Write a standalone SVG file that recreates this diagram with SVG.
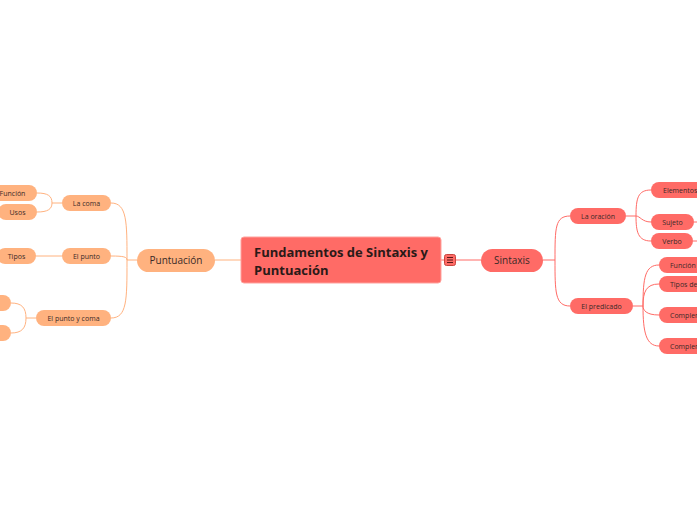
<svg xmlns="http://www.w3.org/2000/svg" width="697" height="520" viewBox="0 0 697 520">
<style>
.o{fill:#FFB27F}
.r{fill:#FF6B66}
.t{font-family:"Open Sans","Liberation Sans",sans-serif;font-size:7px;fill:#3a2a28;text-anchor:middle}
.ts{text-anchor:start}
.lo{fill:none;stroke:#FFB27F;stroke-width:1}
.lr{fill:none;stroke:#FF6B66;stroke-width:1}
</style>
<rect width="697" height="520" fill="#ffffff"/>
<g id="connectors">
<path class="lo" d="M215,260 H241"/>
<path class="lo" d="M137,260 H127"/>
<path class="lo" d="M127,260 C127,222 127,203 111,203"/>
<path class="lo" d="M127,260 C127,257 124,256 111,256"/>
<path class="lo" d="M127,260 C127,300 127,318 111,318"/>
<path class="lo" d="M62,203 H52"/>
<path class="lo" d="M52,203 C52,196 48,193 37,193"/>
<path class="lo" d="M52,203 C52,209 48,212 37,212"/>
<path class="lo" d="M36,256 H62"/>
<path class="lo" d="M36,318 H26"/>
<path class="lo" d="M26,318 C26,308 22,303 11,303"/>
<path class="lo" d="M26,318 C26,328 22,333 11,333"/>
<path class="lr" d="M441,260 H444"/>
<path class="lr" d="M456,260 H481"/>
<path class="lr" d="M543,260 H555"/>
<path class="lr" d="M555,260 C555,228 555,216 570,216"/>
<path class="lr" d="M555,260 C555,292 555,306 570,306"/>
<path class="lr" d="M626,216 H636"/>
<path class="lr" d="M636,216 C636,198 638,190 651,190"/>
<path class="lr" d="M636,216 C640,216 642,222 651,222"/>
<path class="lr" d="M636,216 C636,232 638,241 651,241"/>
<path class="lr" d="M694,222 H697"/>
<path class="lr" d="M693,241 H697"/>
<path class="lr" d="M633,306 H643"/>
<path class="lr" d="M643,306 C643,278 645,265 659,265"/>
<path class="lr" d="M643,306 C643,292 646,284 659,284"/>
<path class="lr" d="M643,306 C643,310 646,315 659,315"/>
<path class="lr" d="M643,306 C643,332 646,346 659,346"/>
</g>
<g id="central">
<rect x="241" y="237" width="200" height="46" rx="3" fill="#FF6B66" stroke="#FFA29D" stroke-width="1"/>
<text x="254" y="257" font-family="'Open Sans','Liberation Sans',sans-serif" font-size="13" font-weight="700" fill="#2a1a18">Fundamentos de Sintaxis y</text>
<text x="254" y="275" font-family="'Open Sans','Liberation Sans',sans-serif" font-size="13" font-weight="700" fill="#2a1a18">Puntuación</text>
</g>
<g id="toggle">
<rect x="444.5" y="254.5" width="11" height="11" rx="2" fill="#FF6B66" stroke="#C9453F" stroke-width="1"/>
<path d="M447,257.5 H453 M447,260 H453 M447,262.5 H453" stroke="#5a1a18" stroke-width="1"/>
</g>
<g id="puntuacion">
<rect class="o" x="137" y="249" width="78" height="23" rx="11.5"/>
<text class="t" x="176" y="264" font-size="10" style="font-size:10px">Puntuación</text>
</g>
<g id="la-coma"><rect class="o" x="62" y="195" width="49" height="16" rx="8"/><text class="t" x="86.5" y="205.5">La coma</text></g>
<g id="el-punto"><rect class="o" x="62" y="248" width="49" height="16" rx="8"/><text class="t" x="86.5" y="258.5">El punto</text></g>
<g id="el-punto-y-coma"><rect class="o" x="36" y="310" width="75" height="16" rx="8"/><text class="t" x="73.5" y="320.5">El punto y coma</text></g>
<g id="funcion-l"><rect class="o" x="-12" y="185" width="49" height="16" rx="8"/><text class="t" x="12.5" y="195.5">Función</text></g>
<g id="usos"><rect class="o" x="-2" y="204" width="39" height="16" rx="8"/><text class="t" x="17.5" y="214.5">Usos</text></g>
<g id="tipos"><rect class="o" x="-3" y="248" width="39" height="16" rx="8"/><text class="t" x="16.5" y="258.5">Tipos</text></g>
<g id="pyc-1"><rect class="o" x="-40" y="295" width="51" height="16" rx="8"/></g>
<g id="pyc-2"><rect class="o" x="-40" y="325" width="51" height="16" rx="8"/></g>
<g id="sintaxis">
<rect class="r" x="481" y="249" width="62" height="23" rx="11.5"/>
<text class="t" x="512" y="264" style="font-size:10px">Sintaxis</text>
</g>
<g id="la-oracion"><rect class="r" x="570" y="208" width="56" height="16" rx="8"/><text class="t" x="598" y="218.5">La oración</text></g>
<g id="el-predicado"><rect class="r" x="570" y="298" width="63" height="16" rx="8"/><text class="t" x="601.5" y="308.5">El predicado</text></g>
<g id="elementos"><rect class="r" x="651" y="182" width="60" height="16" rx="8"/><text class="t ts" x="663" y="192.5">Elementos</text></g>
<g id="sujeto"><rect class="r" x="651" y="214" width="43" height="16" rx="8"/><text class="t" x="672.5" y="224.5">Sujeto</text></g>
<g id="verbo"><rect class="r" x="651" y="233" width="42" height="16" rx="8"/><text class="t" x="672" y="243.5">Verbo</text></g>
<g id="funcion-r"><rect class="r" x="659" y="257" width="50" height="16" rx="8"/><text class="t ts" x="670" y="267.5">Función</text></g>
<g id="tipos-de"><rect class="r" x="659" y="276" width="60" height="16" rx="8"/><text class="t ts" x="670" y="286.5">Tipos de</text></g>
<g id="complem-1"><rect class="r" x="659" y="307" width="60" height="16" rx="8"/><text class="t ts" x="670" y="317.5">Complem</text></g>
<g id="complem-2"><rect class="r" x="659" y="338" width="60" height="16" rx="8"/><text class="t ts" x="670" y="348.5">Complem</text></g>
</svg>
